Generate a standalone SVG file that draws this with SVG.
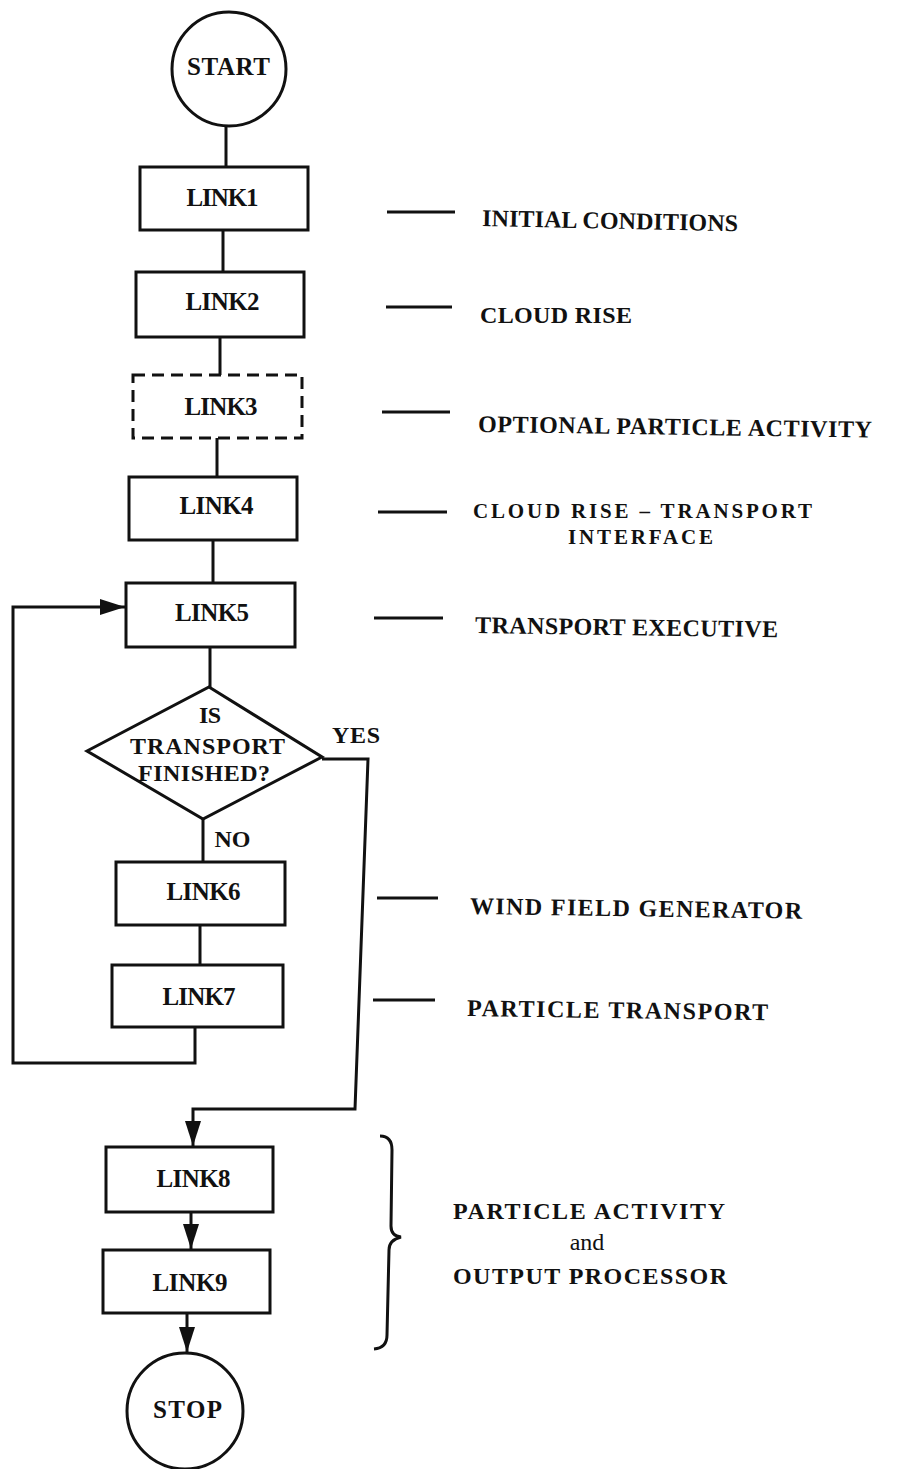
<svg xmlns="http://www.w3.org/2000/svg" width="909" height="1469" viewBox="0 0 909 1469">
<style>
.shape{fill:#fff;stroke:#111;stroke-width:3}
.dashed{stroke-dasharray:12 7}
.conn{fill:none;stroke:#111;stroke-width:3}
.t{font-family:"Liberation Serif","DejaVu Serif",serif;font-weight:bold;font-size:25px;fill:#111}
.c{text-anchor:middle}
.d{font-size:24px}
.lbl{font-family:"Liberation Serif","DejaVu Serif",serif;font-weight:bold;font-size:24px;fill:#111}
.sm{font-size:21px}
.and{font-family:"Liberation Serif","DejaVu Serif",serif;font-size:24px;fill:#111;text-anchor:middle}
</style>
<defs>
<marker id="arr" markerUnits="userSpaceOnUse" markerWidth="26" markerHeight="18" refX="25" refY="8" orient="auto">
<path d="M0,0 L25,8 L0,16 z" fill="#111"/>
</marker>
</defs>
<rect width="909" height="1469" fill="#fff"/>
<g id="connectors">
<line class="conn" x1="226" y1="126" x2="226" y2="167"/>
<line class="conn" x1="223" y1="230" x2="223" y2="272"/>
<line class="conn" x1="220" y1="337" x2="220" y2="375"/>
<line class="conn" x1="217" y1="438" x2="217" y2="477"/>
<line class="conn" x1="213" y1="540" x2="213" y2="582"/>
<line class="conn" x1="210" y1="647" x2="210" y2="687"/>
<line class="conn" x1="203" y1="819" x2="203" y2="862"/>
<line class="conn" x1="200" y1="925" x2="200" y2="965"/>
<path class="conn" d="M195,1027 L195,1063 L13,1063 L13,607 L125,607" marker-end="url(#arr)"/>
<path class="conn" d="M322,759 L368,759 L355,1109 L193,1109 L193,1146" marker-end="url(#arr)"/>
<line class="conn" x1="191" y1="1212" x2="191" y2="1249" marker-end="url(#arr)"/>
<line class="conn" x1="187" y1="1313" x2="187" y2="1352" marker-end="url(#arr)"/>
</g>
<g id="start"><circle class="shape" cx="229" cy="69" r="57"/><text class="t c" x="228.5" y="75" textLength="83">START</text></g>
<g id="link1"><rect class="shape" x="140" y="167" width="168" height="63"/><text class="t c" x="222.5" y="206" textLength="72">LINK1</text></g>
<g id="link2"><rect class="shape" x="136" y="272" width="168" height="65"/><text class="t c" x="222.5" y="310" textLength="74">LINK2</text></g>
<g id="link3"><rect class="shape dashed" x="133" y="375" width="169" height="63"/><text class="t c" x="221" y="415" textLength="73">LINK3</text></g>
<g id="link4"><rect class="shape" x="129" y="477" width="168" height="63"/><text class="t c" x="216.5" y="514" textLength="74">LINK4</text></g>
<g id="link5"><rect class="shape" x="126" y="583" width="169" height="64"/><text class="t c" x="212" y="621" textLength="74">LINK5</text></g>
<g id="decision"><polygon class="shape" points="209,687 322,757 203,819 87,751"/>
<text class="t c d" x="210" y="723" textLength="22">IS</text>
<text class="t c d" x="207.5" y="754" textLength="155">TRANSPORT</text>
<text class="t c d" x="204" y="781" textLength="132">FINISHED?</text></g>
<text class="t c d" x="356" y="743" textLength="48">YES</text>
<text class="t c d" x="232.5" y="847" textLength="36">NO</text>
<g id="link6"><rect class="shape" x="116" y="862" width="169" height="63"/><text class="t c" x="203.5" y="900" textLength="74">LINK6</text></g>
<g id="link7"><rect class="shape" x="112" y="965" width="171" height="62"/><text class="t c" x="199" y="1005" textLength="73">LINK7</text></g>
<g id="link8"><rect class="shape" x="106" y="1147" width="167" height="65"/><text class="t c" x="193.5" y="1187" textLength="74">LINK8</text></g>
<g id="link9"><rect class="shape" x="103" y="1250" width="167" height="63"/><text class="t c" x="190" y="1291" textLength="75">LINK9</text></g>
<g id="stop"><circle class="shape" cx="185" cy="1411" r="58"/><text class="t c" x="187.5" y="1418" textLength="69">STOP</text></g>
<g id="labels">
<line class="conn" x1="387" y1="212" x2="455" y2="212"/>
<text class="lbl" x="482" y="226" textLength="256" transform="rotate(1.2 482 226)">INITIAL CONDITIONS</text>
<line class="conn" x1="386" y1="307" x2="452" y2="307"/>
<text class="lbl" x="480" y="323" textLength="152">CLOUD RISE</text>
<line class="conn" x1="382" y1="412" x2="450" y2="412"/>
<text class="lbl" x="478" y="432" textLength="394" transform="rotate(0.8 478 432)">OPTIONAL PARTICLE ACTIVITY</text>
<line class="conn" x1="378" y1="512" x2="447" y2="512"/>
<text class="lbl sm" x="473" y="518" textLength="339">CLOUD RISE – TRANSPORT</text>
<text class="lbl sm" x="568" y="544" textLength="145">INTERFACE</text>
<line class="conn" x1="374" y1="618" x2="443" y2="618"/>
<text class="lbl" x="475" y="633" textLength="303" transform="rotate(0.8 475 633)">TRANSPORT EXECUTIVE</text>
<line class="conn" x1="377" y1="898" x2="438" y2="898"/>
<text class="lbl" x="470" y="914" textLength="332" transform="rotate(0.8 470 914)">WIND FIELD GENERATOR</text>
<line class="conn" x1="373" y1="1000" x2="435" y2="1000"/>
<text class="lbl" x="467" y="1016" textLength="301" transform="rotate(0.8 467 1016)">PARTICLE TRANSPORT</text>
<path class="conn" d="M380,1136 Q392,1136 392,1150 L391,1226 Q391,1236 401,1237 Q389,1240 389,1250 L387,1335 Q387,1348 374,1349"/>
<text class="lbl" x="453" y="1219" textLength="272">PARTICLE ACTIVITY</text>
<text class="and" x="587" y="1250">and</text>
<text class="lbl" x="453" y="1284" textLength="274">OUTPUT PROCESSOR</text>
</g>
</svg>
